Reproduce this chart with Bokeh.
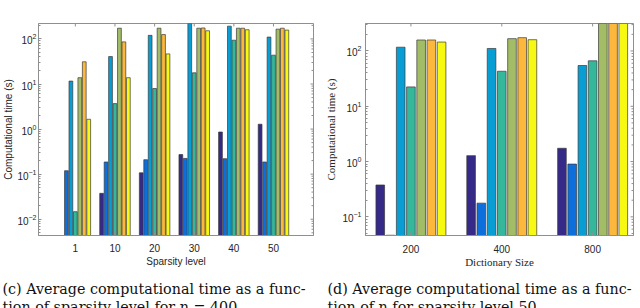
import math
from bokeh.plotting import figure
from bokeh.models import Range1d, FixedTicker, LogTickFormatter, ColumnDataSource
from bokeh.layouts import row, column
from bokeh.embed import file_html
from bokeh.resources import INLINE
from bokeh.core.properties import value

# ---------------- data ----------------
SERIES_COLORS = ["#352A87", "#0D6FDC", "#089DD3", "#35B79C", "#A3BD67", "#FBB83C", "#F8F913"]

# panel (c): time vs sparsity level, n = 400
SPARSITY_LABELS = ["1", "10", "20", "30", "40", "50"]
c_navy   = [0.003, 0.0375, 0.107, 0.272, 0.86, 1.28]
c_blue   = [0.119, 0.186, 0.209, 0.223, 0.22, 0.186]
c_cyan   = [11.6, 40.6, 120, 300, 192, 110]
c_teal   = [0.0147, 3.67, 7.94, 17.7, 93.7, 43.6]
c_olive  = [13.8, 173, 173, 173, 173, 165]
c_orange = [31.1, 86, 125, 175, 173, 173]
c_yellow = [1.65, 13.8, 46.5, 152, 160, 157]

# panel (d): time vs dictionary size, sparsity 50
DICT_LABELS = ["200", "400", "800"]
d_navy   = [0.377, 1.28, 1.74]
d_blue   = [0.0465, 0.177, 0.90]
d_cyan   = [117, 111, 54.6]
d_teal   = [22.4, 43, 66.4]
d_olive  = [158, 167, 400]
d_orange = [158, 174, 400]
d_yellow = [145, 160, 400]

Y_TICKS = [0.01, 0.1, 1, 10, 100]
CAPTION_C = ["(c) Average computational time as a func-", "tion of sparsity level for n = 400."]
CAPTION_D = ["(d) Average computational time as a func-", "tion of n for sparsity level 50."]

AX_COL = "#8f8f8f"
TXT_COL = "#262626"


def minor_ticks():
    out = []
    for e in range(-3, 3):
        for k in range(2, 10):
            out.append(k * 10.0 ** e)
    return out


def make_panel(labels, series, yr, xr, width, height, borders, ylab_font, xlab, xlab_font,
               lab_size, x_std, xl_std, y_std, yl_std):
    p = figure(width=width, height=height, y_axis_type="log", output_backend="svg",
               toolbar_location=None, x_range=Range1d(*xr), y_range=Range1d(*yr),
               min_border_left=borders[0], min_border_right=borders[1],
               min_border_top=borders[2], min_border_bottom=borders[3])
    p.grid.visible = False
    p.outline_line_color = AX_COL
    p.outline_line_width = 1
    p.background_fill_color = "white"
    p.border_fill_color = "white"

    xs = list(range(1, len(labels) + 1))

    # mirrored tick marks on the right and top edges of the frame
    fw = width - borders[0] - borders[1]
    fh = height - borders[2] - borders[3]
    px_per_x = fw / (xr[1] - xr[0])
    px_per_dec = fh / (math.log10(yr[1]) - math.log10(yr[0]))
    maj = [t for t in Y_TICKS if yr[0] < t < yr[1]]
    mnr = [t for t in minor_ticks() if yr[0] < t < yr[1]]
    p.segment(x0=[xr[1]] * len(maj), x1=[xr[1] - 3 / px_per_x] * len(maj), y0=maj, y1=maj,
              line_color=AX_COL, line_width=1)
    p.segment(x0=[xr[1]] * len(mnr), x1=[xr[1] - 2 / px_per_x] * len(mnr), y0=mnr, y1=mnr,
              line_color=AX_COL, line_width=1)
    p.segment(x0=xs, x1=xs, y0=[yr[1]] * len(xs), y1=[yr[1] / 10 ** (3 / px_per_dec)] * len(xs),
              line_color=AX_COL, line_width=1)

    n = len(series)
    step = 0.1125
    for i, (vals, col) in enumerate(zip(series, SERIES_COLORS)):
        off = (i - (n - 1) / 2) * step
        src = ColumnDataSource(dict(x=[x + off for x in xs], top=vals, bottom=[1e-6] * len(vals)))
        p.vbar(x="x", top="top", bottom="bottom", width=0.095, source=src,
               fill_color=col, line_color="#3a3a3a", line_width=0.7)

    # bottom axis
    xa = p.xaxis[0]
    xa.ticker = FixedTicker(ticks=xs)
    xa.major_label_overrides = {x: l for x, l in zip(xs, labels)}
    xa.axis_label = xlab
    xa.axis_label_text_font = xlab_font
    xa.axis_label_text_font_style = "normal"
    xa.axis_label_text_font_size = lab_size
    xa.axis_label_text_color = TXT_COL
    xa.axis_label_standoff = xl_std
    xa.major_label_text_font = "Liberation Sans"
    xa.major_label_text_font_size = "10px"
    xa.major_label_text_color = TXT_COL
    xa.major_label_standoff = x_std
    xa.major_tick_in = 3
    xa.major_tick_out = 0
    xa.minor_tick_line_color = None
    xa.axis_line_color = AX_COL
    xa.major_tick_line_color = AX_COL

    ya = p.yaxis[0]
    ya.ticker = FixedTicker(ticks=Y_TICKS, minor_ticks=minor_ticks())
    ya.formatter = LogTickFormatter()
    ya.axis_label = "Computational time (s)"
    ya.axis_label_text_font = ylab_font
    ya.axis_label_text_font_style = "normal"
    ya.axis_label_text_font_size = lab_size
    ya.axis_label_text_color = TXT_COL
    ya.axis_label_standoff = yl_std
    ya.major_label_text_font = "Liberation Sans"
    ya.major_label_text_font_size = "10px"
    ya.major_label_text_color = TXT_COL
    ya.major_label_standoff = y_std
    ya.major_tick_in = 3
    ya.major_tick_out = 0
    ya.minor_tick_in = 2
    ya.minor_tick_out = 0
    ya.axis_line_color = AX_COL
    ya.major_tick_line_color = AX_COL
    ya.minor_tick_line_color = AX_COL
    return p


pc = make_panel(SPARSITY_LABELS, [c_navy, c_blue, c_cyan, c_teal, c_olive, c_orange, c_yellow],
                (0.00435, 220), (0.07, 7.01), 322, 270, (37, 9, 23, 31),
                "Liberation Sans", "Sparsity level", "Liberation Sans", "10px",
                8, 1, 2, 0)
pd_ = make_panel(DICT_LABELS, [d_navy, d_blue, d_cyan, d_teal, d_olive, d_orange, d_yellow],
                 (0.046, 314), (0.5, 3.45), 318, 270, (40, 7, 23, 30),
                 "Liberation Serif", "Dictionary Size", "Liberation Serif", "11px",
                 9, 0, 4, 2)

cap = figure(width=640, height=38, output_backend="svg", toolbar_location=None,
             x_range=Range1d(0, 640), y_range=Range1d(38, 0),
             min_border=0, min_border_left=0, min_border_right=0,
             min_border_top=0, min_border_bottom=0)
cap.axis.visible = False
cap.grid.visible = False
cap.outline_line_color = None
cap.text(x=[2, 2], y=[18, 36], text=CAPTION_C, text_font=value("DejaVu Serif"),
         text_font_size="14.3px", text_color="#111111", text_baseline="alphabetic")
cap.text(x=[327, 327], y=[18, 36], text=CAPTION_D, text_font=value("DejaVu Serif"),
         text_font_size="14.3px", text_color="#111111", text_baseline="alphabetic")

layout = column(row(pc, pd_), cap, spacing=0)
open("out.html", "w").write(file_html(layout, INLINE))
